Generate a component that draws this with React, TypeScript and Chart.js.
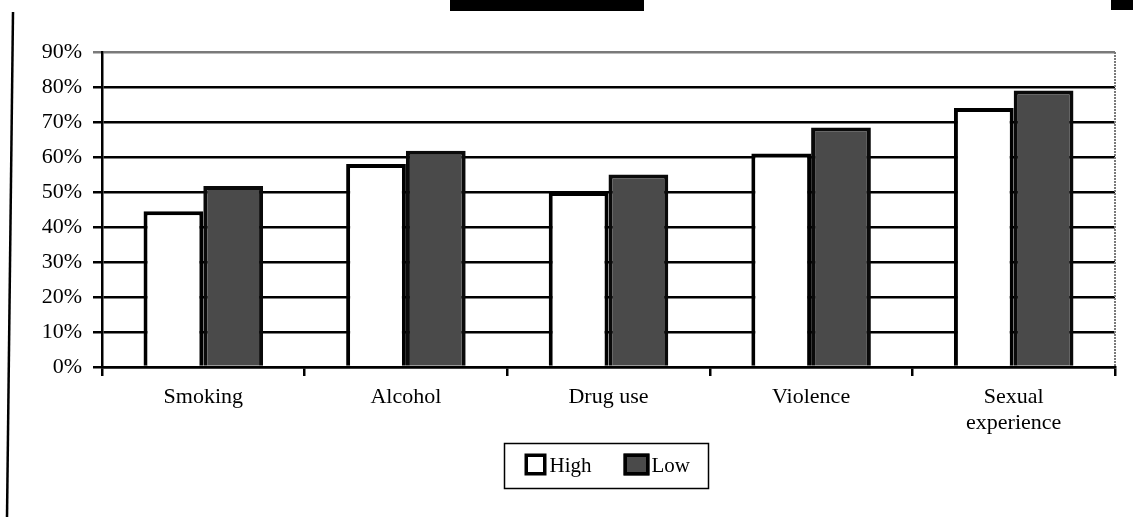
import React, { useEffect, useRef } from "react";
import { Chart, registerables } from "chart.js";

Chart.register(...registerables);

const categories: (string | string[])[] = ["Smoking", "Alcohol", "Drug use", "Violence", ["Sexual", "experience"]];
const highValues = [44.5, 58, 50, 61, 74];
const lowValues = [51.7, 61.8, 55, 68.4, 79];
const yTicks = [0, 10, 20, 30, 40, 50, 60, 70, 80, 90];
const seriesLabels = ["High", "Low"];

const FONT = "'Liberation Serif', 'Times New Roman', serif";

const decorPlugin = {
  id: "decor",
  afterDraw(chart: any) {
    const ctx = chart.ctx as CanvasRenderingContext2D;
    const ca = chart.chartArea;
    ctx.save();
    // right border of plot area (gray dotted in scan)
    ctx.strokeStyle = "#7a7a7a";
    ctx.lineWidth = 2;
    ctx.setLineDash([2, 1]);
    ctx.beginPath();
    ctx.moveTo(ca.right, ca.top);
    ctx.lineTo(ca.right, ca.bottom);
    ctx.stroke();
    ctx.setLineDash([]);

    // scan artifacts
    ctx.fillStyle = "#000";
    ctx.fillRect(450, 0, 194, 11);
    ctx.fillRect(1111, 0, 22, 10);
    ctx.strokeStyle = "#000";
    ctx.lineWidth = 2.5;
    ctx.beginPath();
    ctx.moveTo(13, 12);
    ctx.lineTo(7, 517);
    ctx.stroke();

    // legend
    const cx = (ca.left + ca.right) / 2 - 3;
    const bw = 204, bh = 45;
    const bx = Math.round(cx - bw / 2) + 0.5;
    const by = 443.5;
    ctx.lineWidth = 1.5;
    ctx.strokeStyle = "#000";
    ctx.strokeRect(bx, by, bw, bh);
    const ds = chart.data.datasets;
    const items = [
      { sx: bx + 20, sw: 22, tx: bx + 45 },
      { sx: bx + 119, sw: 26, tx: bx + 147 },
    ];
    ctx.font = `21px ${FONT}`;
    ctx.textBaseline = "middle";
    ctx.textAlign = "left";
    items.forEach((it, i) => {
      const d = ds[i];
      ctx.fillStyle = d.backgroundColor;
      ctx.fillRect(it.sx, by + 10, it.sw, 22);
      ctx.lineWidth = 3.5;
      ctx.strokeStyle = "#000";
      ctx.strokeRect(it.sx + 1.75, by + 11.75, it.sw - 3.5, 18.5);
      ctx.fillStyle = "#000";
      ctx.fillText(d.label, it.tx, by + 23);
    });
    ctx.restore();
  },
};

export default function App() {
  const ref = useRef<HTMLCanvasElement>(null);
  useEffect(() => {
    if (!ref.current) return;
    const chart = new Chart(ref.current, {
      type: "bar",
      data: {
        labels: categories,
        datasets: [
          {
            label: seriesLabels[0],
            data: highValues,
            backgroundColor: "#ffffff",
            borderColor: "#000000",
            borderWidth: 4,
            barPercentage: 1,
            categoryPercentage: 0.59,
          },
          {
            label: seriesLabels[1],
            data: lowValues,
            backgroundColor: "#4a4a4a",
            borderColor: "#0a0a0a",
            borderWidth: 4,
            barPercentage: 1,
            categoryPercentage: 0.59,
          },
        ],
      },
      options: {
        responsive: false,
        animation: false,
        devicePixelRatio: 1,
        layout: { padding: { top: 52, right: 18, bottom: 0, left: 0 } },
        plugins: {
          legend: { display: false },
          tooltip: { enabled: false },
        },
        scales: {
          x: {
            grid: {
              offset: true,
              drawOnChartArea: false,
              drawTicks: true,
              tickLength: 9,
              color: "#000",
              lineWidth: 2.5,
            },
            border: { display: true, color: "#000", width: 2.5 },
            ticks: {
              color: "#000",
              font: { family: FONT, size: 22, lineHeight: 1.15 },
              padding: 9,
              maxRotation: 0,
              autoSkip: false,
            },
            afterFit(scale: any) {
              scale.height = 150;
            },
          },
          y: {
            min: 0,
            max: 90,
            afterBuildTicks(scale: any) {
              scale.ticks = yTicks.map((v) => ({ value: v }));
            },
            ticks: {
              color: "#000",
              font: { family: FONT, size: 22 },
              padding: 11,
              callback: (v: any) => `${v}%`,
            },
            grid: {
              color: (c: any) => (c.tick && c.tick.value === 90 ? "#7a7a7a" : "#000"),
              lineWidth: 2.5,
              tickLength: 9,
            },
            border: { display: true, color: "#000", width: 2.5 },
            afterFit(scale: any) {
              scale.width = 102;
            },
          },
        },
      },
      plugins: [decorPlugin],
    });
    return () => chart.destroy();
  }, []);
  return (
    <div style={{ position: "absolute", left: 0, top: 0, width: 1133, height: 517, background: "#fff" }}>
      <canvas ref={ref} width={1133} height={517} style={{ display: "block" }} />
    </div>
  );
}
